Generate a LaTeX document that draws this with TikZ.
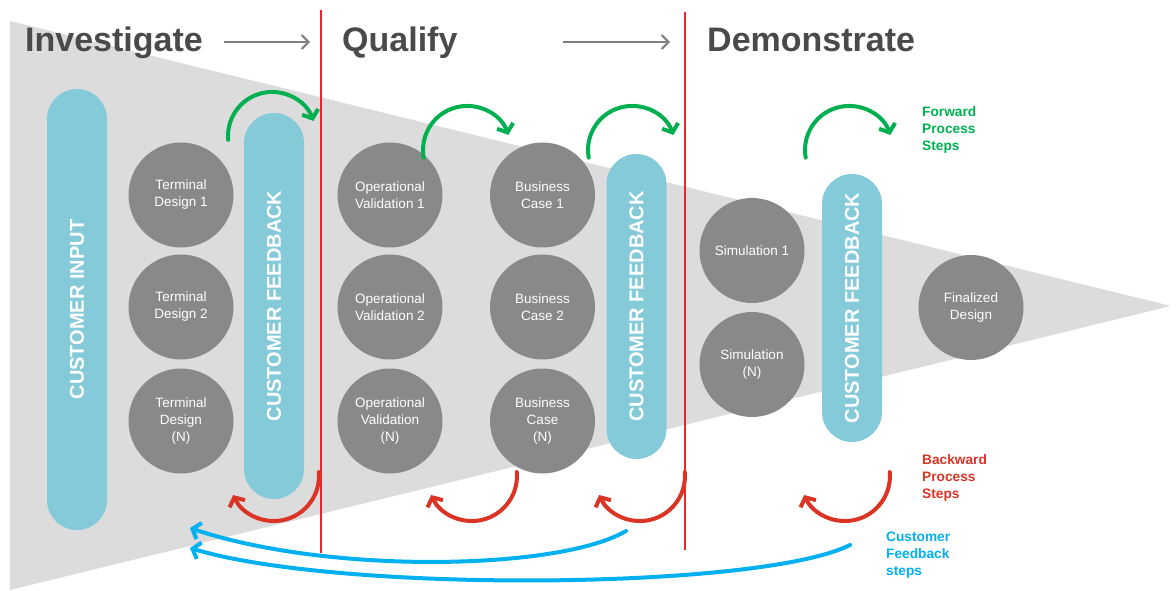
\documentclass[tikz,border=0pt]{standalone}
\usepackage{fontspec}
\setmainfont{Liberation Sans}
\usetikzlibrary{arrows.meta}

\definecolor{funnelgrey}{HTML}{DCDCDC}
\definecolor{stagegrey}{HTML}{898989}
\definecolor{pillblue}{HTML}{85CAD9}
\definecolor{headgrey}{HTML}{4A4A4A}
\definecolor{arrowgrey}{HTML}{808080}
\definecolor{fwdgreen}{HTML}{00B050}
\definecolor{backred}{HTML}{DB3324}
\definecolor{cfblue}{HTML}{00B0F0}
\definecolor{divred}{HTML}{E8262C}

\begin{document}
\begin{tikzpicture}[x=1pt, y=1pt,
    stage/.style={circle, fill=stagegrey, minimum size=105pt, inner sep=0pt,
      text=white, align=center, font=\fontsize{13.5}{17}\selectfont},
    pill/.style={rectangle, rounded corners=30pt, fill=pillblue, minimum height=60pt,
      rotate=90, inner sep=0pt, text=white, font=\bfseries\fontsize{20}{24}\selectfont},
    header/.style={anchor=base west, inner sep=0pt, text=headgrey,
      font=\bfseries\fontsize{34}{40}\selectfont},
    legend/.style={anchor=west, inner sep=0pt, align=left,
      font=\bfseries\fontsize{13.7}{17}\selectfont},
    divider/.style={draw=divred, line width=1.3pt},
    fwd/.style={draw=fwdgreen, line width=4pt, line cap=round,
      -{Straight Barb[length=7pt,width=17pt]}},
    back/.style={draw=backred, line width=4pt, line cap=round,
      -{Straight Barb[length=7pt,width=17pt]}},
    cfback/.style={draw=cfblue, line width=4pt, line cap=round,
      -{Straight Barb[length=7pt,width=17pt]}},
    phase/.style={draw=arrowgrey, line width=2pt, -{Straight Barb[length=7pt,width=14pt]}}]

    \useasboundingbox (0,0) rectangle (1176,590);

    % Funnel
    \fill[funnelgrey] (10,569) -- (1171,284) -- (10,0) -- cycle;

    % Phase dividers
    \coordinate (div1top) at (321,580);
    \coordinate (div1bot) at (321,37);
    \coordinate (div2top) at (685,578);
    \coordinate (div2bot) at (685,40);
    \draw[divider] (div1top) -- (div1bot);
    \draw[divider] (div2top) -- (div2bot);

    % Headers
    \node[header] (investigate) at (25,538) {Investigate};
    \node[header] (qualify) at (342,538) {Qualify};
    \node[header] (demonstrate) at (707,538) {Demonstrate};
    \coordinate (ph1s) at (224,548);
    \coordinate (ph1e) at (310,548);
    \coordinate (ph2s) at (563,548);
    \coordinate (ph2e) at (670,548);
    \draw[phase] (ph1s) -- (ph1e);
    \draw[phase] (ph2s) -- (ph2e);

    % Customer pills
    \node[pill, minimum width=441pt] (input) at (77,280.5) {CUSTOMER INPUT};
    \node[pill, minimum width=386pt] (feedback1) at (274,284) {CUSTOMER FEEDBACK};
    \node[pill, minimum width=305pt] (feedback2) at (636.5,283.5) {CUSTOMER FEEDBACK};
    \node[pill, minimum width=268pt] (feedback3) at (852,282) {CUSTOMER FEEDBACK};

    % Stages
    \node[stage] (td1) at (181,395) {Terminal\\Design 1};
    \node[stage] (td2) at (181,283) {Terminal\\Design 2};
    \node[stage] (tdn) at (181,169) {Terminal\\Design\\(N)};
    \node[stage] (ov1) at (390,395) {Operational\\Validation 1};
    \node[stage] (ov2) at (390,283) {Operational\\Validation 2};
    \node[stage] (ovn) at (390,169) {Operational\\Validation\\(N)};
    \node[stage] (bc1) at (542.5,395) {Business\\Case 1};
    \node[stage] (bc2) at (542.5,283) {Business\\Case 2};
    \node[stage] (bcn) at (542.5,169) {Business\\Case\\(N)};
    \node[stage] (sim1) at (752,339.5) {Simulation 1};
    \node[stage] (simn) at (752,225.5) {Simulation\\(N)};
    \node[stage] (final) at (971,282.5) {Finalized\\Design};

    % Forward steps
    \coordinate (fw1) at (228.2,450.2);
    \coordinate (fw2) at (423.7,432.4);
    \coordinate (fw3) at (588.7,432.4);
    \coordinate (fw4) at (805.7,432.4);
    \draw[fwd] (fw1) arc[start angle=185, end angle=20, radius=44];
    \draw[fwd] (fw2) arc[start angle=190, end angle=20, radius=44];
    \draw[fwd] (fw3) arc[start angle=190, end angle=20, radius=44];
    \draw[fwd] (fw4) arc[start angle=190, end angle=20, radius=44];

    % Backward steps
    \coordinate (bw1) at (318.8,117.9);
    \coordinate (bw2) at (516.8,117.9);
    \coordinate (bw3) at (684.8,117.9);
    \coordinate (bw4) at (889.8,117.9);
    \draw[back] (bw1) arc[start angle=5, end angle=-155, radius=45];
    \draw[back] (bw2) arc[start angle=5, end angle=-155, radius=45];
    \draw[back] (bw3) arc[start angle=5, end angle=-155, radius=45];
    \draw[back] (bw4) arc[start angle=5, end angle=-155, radius=45];

    % Customer feedback steps
    \coordinate (cf1s) at (626,59);
    \coordinate (cf1e) at (190,62);
    \coordinate (cf2s) at (850,45);
    \coordinate (cf2e) at (190,42);
    \draw[cfback] (cf1s) .. controls (560,20) and (330,15) .. (cf1e);
    \draw[cfback] (cf2s) .. controls (760,0) and (340,-3) .. (cf2e);

    % Legend
    \node[legend, text=fwdgreen] (fwdtext) at (922,460) {Forward\\Process\\Steps};
    \node[legend, text=backred] (backtext) at (922,112) {Backward\\Process\\Steps};
    \node[legend, text=cfblue] (cftext) at (886,35) {Customer\\Feedback\\steps};

\end{tikzpicture}
\end{document}
